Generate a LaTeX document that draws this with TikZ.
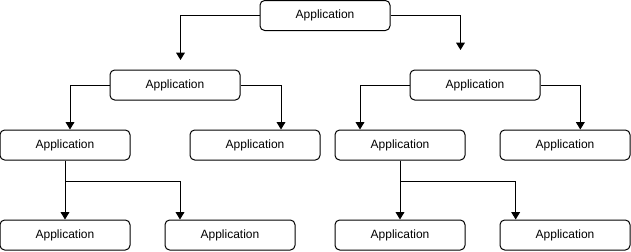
\documentclass[tikz,border=0pt]{standalone}
\usepackage{fontspec}
\setmainfont{Liberation Sans}
\usetikzlibrary{arrows.meta}
\begin{document}
\begin{tikzpicture}[x=0.75pt, y=-0.75pt, line width=0.75pt,
  >={Triangle[length=5.5pt,width=6.5pt]},
  app/.style={draw, rectangle, rounded corners=3.5pt, minimum width=97.5pt,
    minimum height=22.5pt, inner sep=0pt, font=\fontsize{9}{11}\selectfont}]
\useasboundingbox (0,0) rectangle (631,251);
\node[app] (root) at (325,15.5) {Application};
\node[app] (l) at (175,85) {Application};
\node[app] (r) at (475,85) {Application};
\node[app] (ll) at (65,145) {Application};
\node[app] (lr) at (255,145) {Application};
\node[app] (rl) at (400,145) {Application};
\node[app] (rr) at (565,145) {Application};
\node[app] (lll) at (65,235) {Application};
\node[app] (llr) at (230,235) {Application};
\node[app] (rll) at (400,235) {Application};
\node[app] (rlr) at (565,235) {Application};
\coordinate (lend) at (180.5,60);
\coordinate (rend) at (460.5,50);
\draw[->] (root.west) -| (lend);
\draw[->] (root.east) -| (rend);
\draw[->] (l.west) -| ([xshift=3.75pt]ll.north);
\draw[->] (l.east) -| ([xshift=19.5pt]lr.north);
\draw[->] (r.west) -| ([xshift=-30pt]rl.north);
\draw[->] (r.east) -| ([xshift=11.5pt]rr.north);
\draw[->] (ll.south) -- (lll.north);
\draw[->] (ll.south) -- +(0,20.5) -| ([xshift=-37.5pt]llr.north);
\draw[->] (rl.south) -- (rll.north);
\draw[->] (rl.south) -- +(0,20.5) -| ([xshift=-37pt]rlr.north);
\end{tikzpicture}
\end{document}
